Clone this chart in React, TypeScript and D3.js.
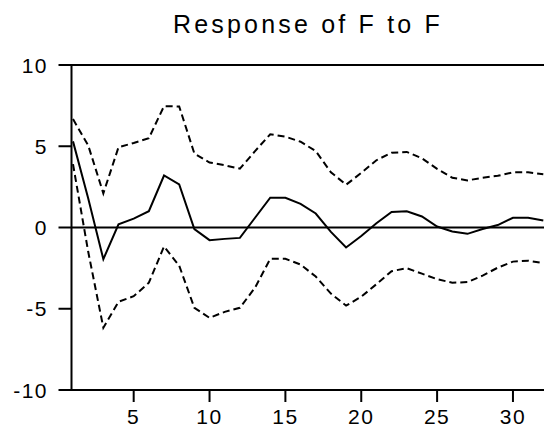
import React from 'react';
import * as d3 from 'd3';

const periods = [1, 2, 3, 4, 5, 6, 7, 8, 9, 10, 11, 12, 13, 14, 15, 16, 17, 18, 19, 20, 21, 22, 23, 24, 25, 26, 27, 28, 29, 30, 31, 32];
const response = [5.3, 1.8, -1.95, 0.2, 0.55, 1.0, 3.2, 2.65, -0.1, -0.78, -0.7, -0.64, 0.6, 1.83, 1.83, 1.45, 0.86, -0.27, -1.23, -0.52, 0.26, 0.96, 1.0, 0.68, 0.06, -0.25, -0.39, -0.09, 0.15, 0.6, 0.6, 0.43];
const upper = [6.67, 5.06, 2.1, 4.94, 5.2, 5.5, 7.47, 7.45, 4.55, 4.0, 3.83, 3.62, 4.7, 5.74, 5.59, 5.28, 4.7, 3.4, 2.63, 3.36, 4.14, 4.6, 4.65, 4.26, 3.61, 3.06, 2.9, 3.06, 3.18, 3.4, 3.4, 3.27];
const lower = [3.9, -1.48, -6.17, -4.57, -4.23, -3.4, -1.17, -2.35, -4.94, -5.56, -5.19, -4.94, -3.7, -1.93, -1.93, -2.28, -3.02, -4.07, -4.81, -4.26, -3.49, -2.69, -2.5, -2.84, -3.18, -3.4, -3.36, -2.96, -2.47, -2.1, -2.04, -2.19];
const yTicks = [-10, -5, 0, 5, 10];
const xTicks = [5, 10, 15, 20, 25, 30];
const title = 'Response of F to F';

const W = 544;
const H = 430;
const axisX = 71.5;
const top = 65;
const bottom = 390;

export default function App() {
  const x = d3.scaleLinear().domain([1, 32]).range([73, 543.3]);
  const y = d3.scaleLinear().domain([-10, 10]).range([bottom, top]);
  const line = (vals: number[]) =>
    d3.line<number>().x((_, i) => x(periods[i])).y((d) => y(d))(vals) || '';
  const font = "'Liberation Sans', Arial, sans-serif";
  return (
    <svg width={W} height={H} style={{ position: 'absolute', left: 0, top: 0, background: '#fff' }}>
      <text x={308} y={33} textAnchor="middle" fontFamily={font} fontSize={25} letterSpacing={3.2} fill="#000">
        {title}
      </text>
      {/* frame */}
      <line x1={axisX} x2={W + 10} y1={top} y2={top} stroke="#000" strokeWidth={2} />
      <line x1={axisX} x2={W + 10} y1={bottom} y2={bottom} stroke="#000" strokeWidth={2} />
      <line x1={axisX} x2={axisX} y1={top - 1} y2={bottom + 1} stroke="#000" strokeWidth={2} />
      <line x1={axisX} x2={W + 10} y1={y(0)} y2={y(0)} stroke="#000" strokeWidth={1.8} />
      {yTicks.map((t) => (
        <g key={'y' + t}>
          <line x1={axisX - 13} x2={axisX} y1={y(t)} y2={y(t)} stroke="#000" strokeWidth={2} />
          <text x={48} y={y(t)} dy="0.36em" textAnchor="end" fontFamily={font} fontSize={21} letterSpacing={1.5} fill="#000">
            {t}
          </text>
        </g>
      ))}
      {xTicks.map((t) => (
        <g key={'x' + t}>
          <line x1={x(t)} x2={x(t)} y1={bottom} y2={bottom + 12} stroke="#000" strokeWidth={2} />
          <text x={x(t)} y={424} textAnchor="middle" fontFamily={font} fontSize={21} letterSpacing={1.5} fill="#000">
            {t}
          </text>
        </g>
      ))}
      <path d={line(upper)} fill="none" stroke="#000" strokeWidth={2} strokeDasharray="7,4" />
      <path d={line(lower)} fill="none" stroke="#000" strokeWidth={2} strokeDasharray="7,4" />
      <path d={line(response)} fill="none" stroke="#000" strokeWidth={2} />
    </svg>
  );
}
